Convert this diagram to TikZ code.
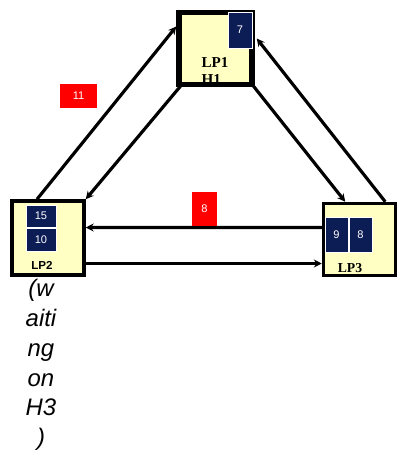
\documentclass[tikz,border=0pt]{standalone}
\usepackage{fontspec}
\setmainfont{Liberation Serif}
\setsansfont{Liberation Sans}
\usetikzlibrary{positioning,arrows.meta,calc}
\definecolor{lpyellow}{RGB}{255,255,196}
\definecolor{lpnavy}{RGB}{12,28,84}
\definecolor{lpred}{RGB}{255,0,0}
\tikzset{
  lp-box/.style={draw=black, line width=2pt, fill=lpyellow, inner sep=0pt},
  msg-box/.style={draw=white, line width=0.5pt, fill=lpnavy, text=white,
    font=\sffamily\fontsize{6.3}{7}\selectfont, inner sep=0pt},
  marker-box/.style={fill=lpred, text=white,
    font=\sffamily\fontsize{6.3}{7}\selectfont, inner sep=0pt},
  link-arrow/.style={-{Stealth[length=4.5pt, width=4.5pt]}, line width=1.8pt, draw=black},
  wait-note/.style={font=\sffamily\itshape\fontsize{13.6}{17}\selectfont, align=center,
    text=black, inner sep=0pt}
}

\begin{document}
\begin{tikzpicture}[x=0.02cm, y=-0.02cm]
\useasboundingbox (0,0) rectangle (409,457);
% the three processes
\node[lp-box, minimum width=1.42cm, minimum height=1.40cm] (lp1) at (215.5,48.5) {};
\begin{scope}
\clip (lp1.south west) rectangle (lp1.north east);
\node[font=\bfseries\fontsize{8.6}{9.6}\selectfont, align=left, inner sep=0pt]
  (lp1-label) at (215,71) {LP1\\H1};
\end{scope}
\draw[line width=2pt] (lp1.south west) rectangle (lp1.north east);
\node[lp-box, minimum width=1.44cm, minimum height=1.48cm] (lp2) at (48,238) {};
\node[lp-box, minimum width=1.44cm, minimum height=1.44cm] (lp3) at (359.5,239.5) {};
\node[font=\sffamily\bfseries\fontsize{6.6}{8}\selectfont, inner sep=0pt] (lp2-label) at (42,265) {LP2};
\node[font=\bfseries\fontsize{7.8}{9}\selectfont, inner sep=0pt] (lp3-label) at (350,268) {LP3};
% queued messages
\node[msg-box, minimum width=0.48cm, minimum height=0.72cm] (m7) at (240,30) {7};
\node[msg-box, minimum width=0.60cm, minimum height=0.44cm] (m15) at (41,216) {15};
\node[msg-box, minimum width=0.60cm, minimum height=0.46cm] (m10) at (41,239.5) {10};
\node[msg-box, minimum width=0.46cm, minimum height=0.70cm] (m9) at (336.5,234.5) {9};
\node[msg-box, minimum width=0.46cm, minimum height=0.70cm] (m8) at (360.5,234.5) {8};
% channels
\draw[link-arrow] ($(lp2.north)+(-11,0)$) -- ($(lp1.west)+(-2,-22)$);
\draw[link-arrow] ($(lp1.south west)+(3,0)$) -- (lp2.north east);
\draw[link-arrow] ($(lp3.north east)+(-12,0)$) -- ($(lp1.east)+(4,-10)$);
\draw[link-arrow] (lp1.south east) -- ($(lp3.north west)+(23.5,0)$);
\draw[link-arrow] ($(lp3.west)+(0,-12)$) -- ($(lp2.east)+(0,-10.5)$);
\draw[link-arrow] ($(lp2.east)+(0,25.5)$) -- ($(lp3.west)+(0,24)$);
% markers in transit
\node[marker-box, minimum width=0.74cm, minimum height=0.48cm] (mk11) at (78.5,96) {11};
\node[marker-box, minimum width=0.50cm, minimum height=0.68cm] (mk8) at (204.5,209) {8};
\node[wait-note] (lp2-note) at (41,365) {(w\\aiti\\ng\\on\\H3\\)};
\end{tikzpicture}
\end{document}
